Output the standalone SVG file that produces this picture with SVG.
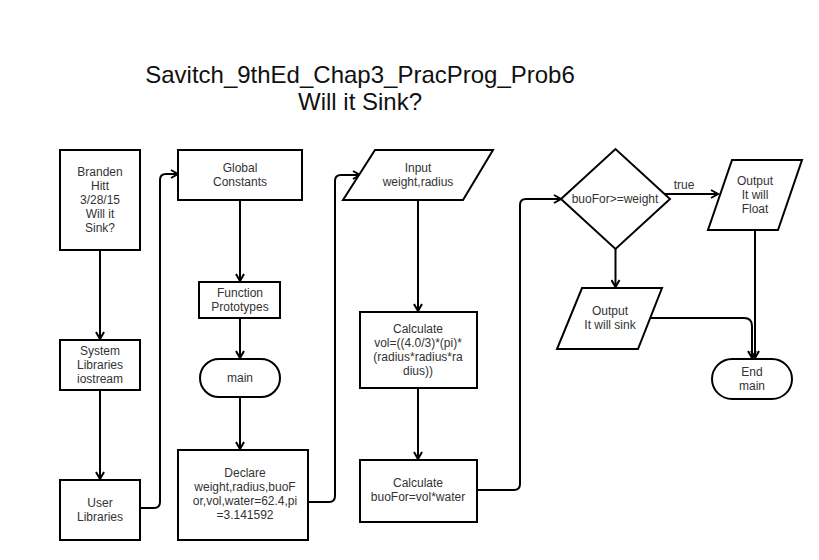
<svg xmlns="http://www.w3.org/2000/svg" width="819" height="560" viewBox="0 0 819 560">
<style>
.n{fill:#fff;stroke:#000;stroke-width:2}
.t{font-family:"Liberation Sans",Arial,sans-serif;font-size:12px;fill:#333;text-anchor:middle}
.ttl{font-family:"Liberation Sans",Arial,sans-serif;font-size:24px;fill:#111;text-anchor:middle}
.c{fill:none;stroke:#000;stroke-width:2}
</style>
<defs>
<marker id="arr" viewBox="0 0 10 10" refX="8.5" refY="5" markerWidth="10" markerHeight="10" markerUnits="userSpaceOnUse" orient="auto">
<path d="M1.5,1 L8.5,5 L1.5,9" fill="none" stroke="#000" stroke-width="2"/>
</marker>
</defs>
<rect width="819" height="560" fill="#fff"/>
<g id="title">
<text class="ttl" x="360" y="83">Savitch_9thEd_Chap3_PracProg_Prob6</text>
<text class="ttl" x="360" y="110">Will it Sink?</text>
</g>
<g id="connectors">
<path class="c" d="M100,250 L100,339" marker-end="url(#arr)"/>
<path class="c" d="M100,390 L100,479" marker-end="url(#arr)"/>
<path class="c" d="M140,508 L154,508 Q160,508 160,502 L160,180 Q160,174 166,174 L178,174" marker-end="url(#arr)"/>
<path class="c" d="M240,200 L240,281" marker-end="url(#arr)"/>
<path class="c" d="M240,318 L240,358" marker-end="url(#arr)"/>
<path class="c" d="M240,397 L240,449" marker-end="url(#arr)"/>
<path class="c" d="M308,502 L329,502 Q335,502 335,496 L335,181 Q335,175 341,175 L360,175" marker-end="url(#arr)"/>
<path class="c" d="M418,200 L418,311" marker-end="url(#arr)"/>
<path class="c" d="M418,388 L418,459" marker-end="url(#arr)"/>
<path class="c" d="M477,490 L514,490 Q520,490 520,484 L520,205 Q520,199 526,199 L561,199" marker-end="url(#arr)"/>
<path class="c" d="M665,194 L718,194" marker-end="url(#arr)"/>
<text class="t" x="684" y="189">true</text>
<path class="c" d="M615.5,249 L615.5,287" marker-end="url(#arr)"/>
<path class="c" d="M755,230 L755,358" marker-end="url(#arr)"/>
<path class="c" d="M650,318 L744,318 Q752,318 752,326 L752,358" marker-end="url(#arr)"/>
</g>
<g id="n_author">
<rect class="n" x="60" y="150" width="80" height="100"/>
<text class="t" x="100" y="176">Branden</text>
<text class="t" x="100" y="190">Hitt</text>
<text class="t" x="100" y="204">3/28/15</text>
<text class="t" x="100" y="218">Will it</text>
<text class="t" x="100" y="232">Sink?</text>
</g>
<g id="n_syslib">
<rect class="n" x="60" y="340" width="80" height="50"/>
<text class="t" x="100" y="355">System</text>
<text class="t" x="100" y="369">Libraries</text>
<text class="t" x="100" y="383">iostream</text>
</g>
<g id="n_userlib">
<rect class="n" x="60" y="480" width="80" height="60"/>
<text class="t" x="100" y="507">User</text>
<text class="t" x="100" y="521">Libraries</text>
</g>
<g id="n_global">
<rect class="n" x="178" y="150" width="124" height="50"/>
<text class="t" x="240" y="172">Global</text>
<text class="t" x="240" y="186">Constants</text>
</g>
<g id="n_proto">
<rect class="n" x="199" y="282" width="81" height="36"/>
<text class="t" x="240" y="297">Function</text>
<text class="t" x="240" y="311">Prototypes</text>
</g>
<g id="n_main">
<rect class="n" x="200" y="359" width="80" height="38" rx="19" ry="19"/>
<text class="t" x="240" y="382">main</text>
</g>
<g id="n_declare">
<rect class="n" x="178" y="450" width="130" height="90"/>
<text class="t" x="245" y="477">Declare</text>
<text class="t" x="245" y="491">weight,radius,buoF</text>
<text class="t" x="245" y="505">or,vol,water=62.4,pi</text>
<text class="t" x="245" y="519">=3.141592</text>
</g>
<g id="n_input">
<polygon class="n" points="375,150 493,150 463,200 343,200"/>
<text class="t" x="418" y="172">Input</text>
<text class="t" x="418" y="186">weight,radius</text>
</g>
<g id="n_calcvol">
<rect class="n" x="360" y="312" width="117" height="76"/>
<text class="t" x="418" y="333">Calculate</text>
<text class="t" x="418" y="347">vol=((4.0/3)*(pi)*</text>
<text class="t" x="418" y="361">(radius*radius*ra</text>
<text class="t" x="418" y="375">dius))</text>
</g>
<g id="n_calcbuo">
<rect class="n" x="360" y="460" width="117" height="62"/>
<text class="t" x="418" y="487">Calculate</text>
<text class="t" x="418" y="501">buoFor=vol*water</text>
</g>
<g id="n_decision">
<polygon class="n" points="561,199 615.5,149 670,199 615.5,249"/>
<text class="t" x="615" y="203">buoFor&gt;=weight</text>
</g>
<g id="n_float">
<polygon class="n" points="732,160 802,160 778,230 708,230"/>
<text class="t" x="755" y="185">Output</text>
<text class="t" x="755" y="199">It will</text>
<text class="t" x="755" y="213">Float</text>
</g>
<g id="n_sink">
<polygon class="n" points="582,288 662,288 638,349 557,349"/>
<text class="t" x="610" y="315">Output</text>
<text class="t" x="610" y="329">It will sink</text>
</g>
<g id="n_end">
<rect class="n" x="712" y="359" width="80" height="40" rx="20" ry="20"/>
<text class="t" x="752" y="376">End</text>
<text class="t" x="752" y="390">main</text>
</g>
</svg>
